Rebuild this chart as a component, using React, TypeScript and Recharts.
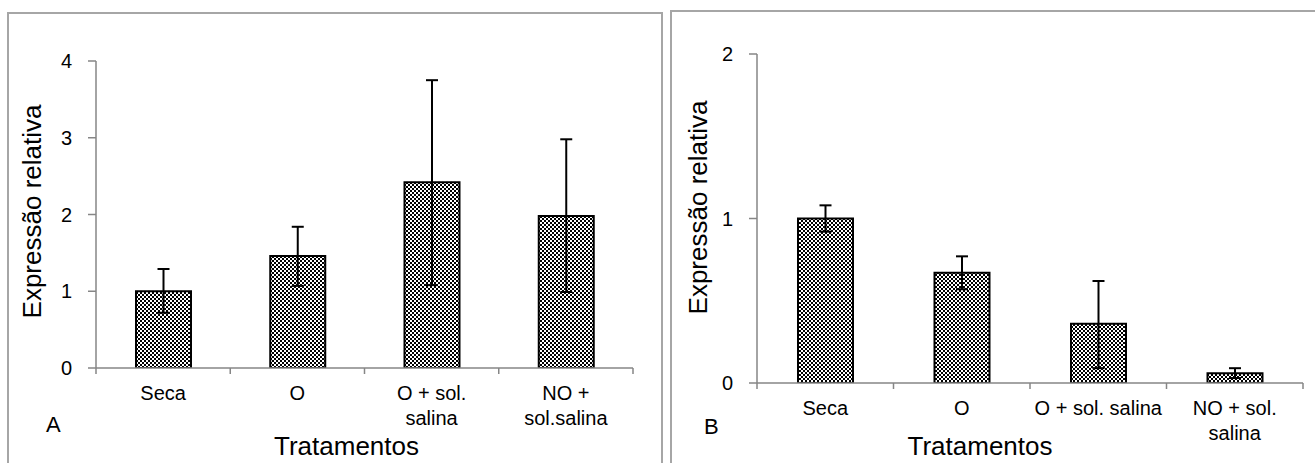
import React from 'react';
import { BarChart, Bar, XAxis, YAxis, ErrorBar } from 'recharts';

// panel A
const categoriesA = ['Seca', 'O', 'O + sol.\nsalina', 'NO +\nsol.salina'];
const valuesA = [1.0, 1.46, 2.42, 1.98];
const lowA = [0.72, 1.07, 1.08, 0.99];
const highA = [1.29, 1.84, 3.75, 2.98];
const ticksA = [0, 1, 2, 3, 4];

// panel B
const categoriesB = ['Seca', 'O', 'O + sol. salina', 'NO + sol.\nsalina'];
const valuesB = [1.0, 0.67, 0.36, 0.06];
const lowB = [0.92, 0.57, 0.09, 0.03];
const highB = [1.08, 0.77, 0.62, 0.09];
const ticksB = [0, 1, 2];

const FONT = '"Liberation Sans", Arial, sans-serif';
const AXIS_GRAY = '#868686';
const BORDER_GRAY = '#a6a6a6';

const buildRows = (cats: string[], vals: number[], low: number[], high: number[]) =>
  cats.map((name, i) => ({
    name,
    value: vals[i],
    err: [vals[i] - low[i], high[i] - vals[i]],
  }));

const dataA = buildRows(categoriesA, valuesA, lowA, highA);
const dataB = buildRows(categoriesB, valuesB, lowB, highB);

// Excel style: tick marks sit between the categories, labels may wrap
const CategoryTick = (props: any) => {
  const { x, y, payload, index, visibleTicksCount, width } = props;
  let half = width / visibleTicksCount / 2;
  if (!isFinite(half)) half = payload.offset || 0;
  const lines = String(payload.value).split('\n');
  const isLast = index === visibleTicksCount - 1;
  return (
    <g>
      <line x1={x - half} x2={x - half} y1={y} y2={y + 6} stroke={AXIS_GRAY} strokeWidth={1.5} />
      {isLast && (
        <line x1={x + half} x2={x + half} y1={y} y2={y + 6} stroke={AXIS_GRAY} strokeWidth={1.5} />
      )}
      <text textAnchor="middle" fontSize={20} fontFamily={FONT} fill="#000">
        {lines.map((l, i) => (
          <tspan key={i} x={x} y={y + 32 + i * 25}>
            {l}
          </tspan>
        ))}
      </text>
    </g>
  );
};

const yTitle = (shiftX: number, shiftY: number) => (props: any) => {
  const { viewBox } = props;
  const cx = viewBox.x + shiftX;
  const cy = viewBox.y + viewBox.height / 2 + shiftY;
  return (
    <text
      x={cx}
      y={cy}
      transform={`rotate(-90, ${cx}, ${cy})`}
      textAnchor="middle"
      dominantBaseline="central"
      fontSize={26}
      fontFamily={FONT}
      fill="#000"
    >
      Expressão relativa
    </text>
  );
};

const xTitle = (shiftX: number) => (props: any) => {
  const { viewBox } = props;
  return (
    <text
      x={viewBox.x + viewBox.width / 2 + shiftX}
      y={viewBox.y + viewBox.height - 3}
      textAnchor="middle"
      fontSize={26}
      fontFamily={FONT}
      fill="#000"
    >
      Tratamentos
    </text>
  );
};

const Panel = ({
  data,
  ticks,
  width,
  margin,
  xHeight,
  yShift,
  titleShift,
}: {
  data: any[];
  ticks: number[];
  width: number;
  margin: { top: number; right: number; bottom: number; left: number };
  xHeight: number;
  yShift: [number, number];
  titleShift: number;
}) => (
  <BarChart width={width} height={463} data={data} margin={margin}>
    <XAxis
      dataKey="name"
      type="category"
      height={xHeight}
      interval={0}
      axisLine={{ stroke: AXIS_GRAY, strokeWidth: 1.5 }}
      tickLine={false}
      tickSize={0}
      tickMargin={0}
      tick={<CategoryTick />}
      label={{ content: xTitle(titleShift) }}
    />
    <YAxis
      type="number"
      domain={[ticks[0], ticks[ticks.length - 1]]}
      ticks={ticks}
      interval={0}
      width={60}
      allowDataOverflow
      axisLine={{ stroke: AXIS_GRAY, strokeWidth: 1.5 }}
      tickLine={{ stroke: AXIS_GRAY, strokeWidth: 1.5 }}
      tickSize={8}
      tickMargin={16}
      tick={{ fontSize: 20, fill: '#000', fontFamily: FONT }}
      label={{ content: yTitle(yShift[0], yShift[1]) }}
    />
    <Bar
      dataKey="value"
      fill="url(#checker)"
      stroke="#000"
      strokeWidth={2}
      barSize={55}
      isAnimationActive={false}
    >
      <ErrorBar dataKey="err" direction="y" width={6} stroke="#000" strokeWidth={2} isAnimationActive={false} />
    </Bar>
  </BarChart>
);

const letterStyle: React.CSSProperties = {
  position: 'absolute',
  fontFamily: FONT,
  fontSize: 22,
  lineHeight: '22px',
  color: '#000',
};

export default function App() {
  return (
    <div
      style={{
        position: 'absolute',
        left: 0,
        top: 0,
        width: 1315,
        height: 463,
        overflow: 'hidden',
        background: '#fff',
      }}
    >
      <svg width={0} height={0} style={{ position: 'absolute' }}>
        <defs>
          <pattern id="checker" width={4} height={4} patternUnits="userSpaceOnUse">
            <rect width={4} height={4} fill="#fff" />
            <rect width={2} height={2} fill="#000" />
            <rect x={2} y={2} width={2} height={2} fill="#000" />
          </pattern>
        </defs>
      </svg>

      <div
        style={{
          position: 'absolute',
          left: 7,
          top: 12,
          width: 652,
          height: 480,
          border: `2px solid ${BORDER_GRAY}`,
        }}
      />
      <div
        style={{
          position: 'absolute',
          left: 670,
          top: 10,
          width: 700,
          height: 480,
          border: `2px solid ${BORDER_GRAY}`,
        }}
      />

      <div style={{ position: 'absolute', left: 0, top: 0 }}>
        <Panel
          data={dataA}
          ticks={ticksA}
          width={661}
          margin={{ top: 61, right: 28, bottom: 5, left: 36 }}
          xHeight={90}
          yShift={[-4, -3]}
          titleShift={-18}
        />
      </div>
      <div style={{ position: 'absolute', left: 661, top: 0 }}>
        <Panel
          data={dataB}
          ticks={ticksB}
          width={654}
          margin={{ top: 54, right: 12, bottom: 5, left: 36 }}
          xHeight={75}
          yShift={[1, -11]}
          titleShift={-50}
        />
      </div>

      <div style={{ ...letterStyle, left: 46, top: 414 }}>A</div>
      <div style={{ ...letterStyle, left: 704, top: 416 }}>B</div>
    </div>
  );
}
